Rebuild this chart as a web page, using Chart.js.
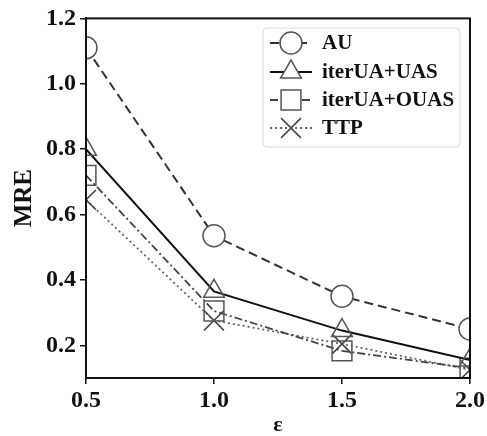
<!DOCTYPE html>
<html>
<head>
<meta charset="utf-8">
<script src="https://cdn.jsdelivr.net/npm/chart.js@4.4.1/dist/chart.umd.min.js"></script>
<style>
  body { margin: 0; background: #fff; }
  #wrap { width: 487px; height: 436px; position: relative; }
</style>
</head>
<body>
<div id="wrap"><canvas id="chart-mre"></canvas></div>
<script>
// valores
const epsilons = [0.5, 1.0, 1.5, 2.0];
const auVals = [1.11, 0.535, 0.35, 0.25];
const uasVals = [0.80, 0.365, 0.245, 0.155];
const ouasVals = [0.72, 0.305, 0.183, 0.13];
const ttpVals = [0.645, 0.276, 0.204, 0.125];
const yTicks = [0.2, 0.4, 0.6, 0.8, 1.0, 1.2];
const xTicks = [0.5, 1.0, 1.5, 2.0];
const labels = ['AU', 'iterUA+UAS', 'iterUA+OUAS', 'TTP'];

const serif = "'Liberation Serif', 'DejaVu Serif', serif";

const toPts = (vals) => vals.map((v, i) => ({ x: epsilons[i], y: v }));

// marco + leyenda dentro del area
const marcoLeyenda = {
  id: 'marcoLeyenda',
  afterDraw(chart) {
    const ctx = chart.ctx;
    const a = chart.chartArea;
    ctx.save();
    ctx.strokeStyle = '#111';
    ctx.lineWidth = 2;
    ctx.strokeRect(a.left, a.top, a.right - a.left, a.bottom - a.top);

    // caja leyenda
    const bx = 263, by = 28, bw = 197, bh = 119;
    ctx.fillStyle = '#fff';
    ctx.strokeStyle = '#dcdcdc';
    ctx.lineWidth = 1;
    ctx.beginPath();
    ctx.roundRect(bx, by, bw, bh, 4);
    ctx.fill();
    ctx.stroke();

    const rows = [43, 72, 100, 128];
    chart.data.datasets.forEach((ds, i) => {
      const y = rows[i];
      ctx.save();
      ctx.strokeStyle = ds.borderColor;
      ctx.lineWidth = ds.borderWidth;
      ctx.setLineDash(ds.borderDash || []);
      ctx.beginPath();
      ctx.moveTo(270, y);
      ctx.lineTo(312, y);
      ctx.stroke();
      ctx.restore();
      ctx.save();
      ctx.fillStyle = '#fff';
      ctx.strokeStyle = ds.pointBorderColor;
      ctx.lineWidth = ds.pointBorderWidth;
      Chart.helpers.drawPoint(ctx, { pointStyle: ds.pointStyle, rotation: 0, radius: ds.pointRadius, borderWidth: ds.pointBorderWidth }, 291, y);
      ctx.restore();
      ctx.fillStyle = '#111';
      ctx.font = 'bold 21px ' + serif;
      ctx.textBaseline = 'middle';
      ctx.textAlign = 'left';
      ctx.fillText(ds.label, 322, y + 1);
    });
    ctx.restore();
  }
};

const ctx = document.getElementById('chart-mre').getContext('2d');

let graficoMre = new Chart(ctx, {
  type: 'line',
  data: {
    datasets: [{
      label: labels[0],
      data: toPts(auVals),
      borderColor: '#333',
      borderWidth: 2,
      borderDash: [9, 5],
      pointStyle: 'circle',
      pointRadius: 11,
      pointBorderColor: '#555',
      pointBackgroundColor: '#fff',
      pointBorderWidth: 1.5
    }, {
      label: labels[1],
      data: toPts(uasVals),
      borderColor: '#111',
      borderWidth: 2,
      pointStyle: 'triangle',
      pointRadius: 12,
      pointBorderColor: '#555',
      pointBackgroundColor: 'rgba(0,0,0,0)',
      pointBorderWidth: 1.5
    }, {
      label: labels[2],
      data: toPts(ouasVals),
      borderColor: '#444',
      borderWidth: 1.8,
      borderDash: [8, 3, 2, 3],
      pointStyle: 'rect',
      pointRadius: 14,
      pointBorderColor: '#555',
      pointBackgroundColor: 'rgba(0,0,0,0)',
      pointBorderWidth: 1.5
    }, {
      label: labels[3],
      data: toPts(ttpVals),
      borderColor: '#666',
      borderWidth: 1.8,
      borderDash: [2, 3],
      pointStyle: 'crossRot',
      pointRadius: 14,
      pointBorderColor: '#444',
      pointBackgroundColor: 'rgba(0,0,0,0)',
      pointBorderWidth: 1.5
    }]
  },
  options: {
    responsive: true,
    maintainAspectRatio: false,
    animation: false,
    layout: { padding: { top: 17, right: 17, left: 0, bottom: 0 } },
    plugins: {
      legend: { display: false },
      tooltip: { enabled: false }
    },
    scales: {
      x: {
        type: 'linear',
        min: 0.5,
        max: 2.0,
        afterBuildTicks: (s) => { s.ticks = xTicks.map(v => ({ value: v })); },
        afterFit: (s) => { s.height = 58; },
        ticks: {
          color: '#111',
          padding: 2,
          font: { family: serif, size: 24, weight: 'bold' },
          callback: (v) => v.toFixed(1)
        },
        grid: { drawOnChartArea: false, drawTicks: true, tickLength: 6, color: '#111', lineWidth: 1.5 },
        border: { display: true, color: '#111', width: 2 },
        title: {
          display: true,
          text: 'ε',
          color: '#111',
          font: { family: serif, size: 22, weight: 'bold', lineHeight: 1 },
          padding: { top: 0, bottom: 0 }
        }
      },
      y: {
        min: 0.1,
        max: 1.2,
        afterBuildTicks: (s) => { s.ticks = yTicks.map(v => ({ value: v })); },
        afterFit: (s) => { s.width = 86; },
        ticks: {
          color: '#111',
          padding: 4,
          font: { family: serif, size: 24, weight: 'bold' },
          callback: (v) => v.toFixed(1)
        },
        grid: { drawOnChartArea: false, drawTicks: true, tickLength: 6, color: '#111', lineWidth: 1.5 },
        border: { display: true, color: '#111', width: 2 },
        title: {
          display: true,
          text: 'MRE',
          color: '#111',
          font: { family: serif, size: 25, weight: 'bold', lineHeight: 1.2 },
          padding: { top: 10, bottom: 0 }
        }
      }
    }
  },
  plugins: [marcoLeyenda]
});
</script>
</body>
</html>
